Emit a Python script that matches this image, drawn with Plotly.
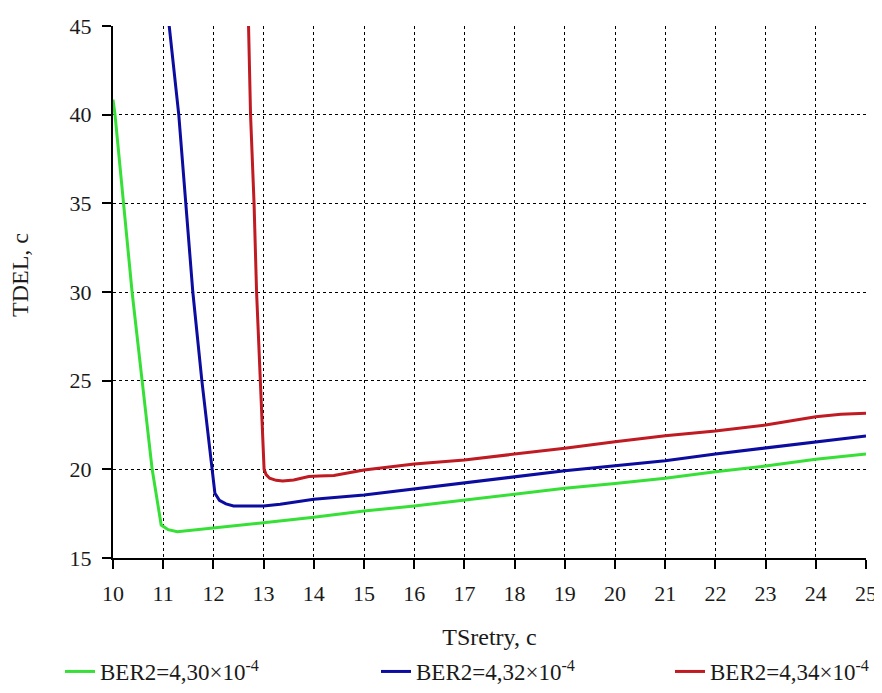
import plotly.graph_objects as go

# Series data (TSretry, TDEL)
x_green = [10.0, 10.04, 10.21, 10.38, 10.58, 10.78, 10.96, 11.1, 11.28, 12, 13, 14, 15, 16, 17, 18, 19, 20, 21, 22, 23, 24, 25]
y_green = [40.85, 40.0, 35.0, 30.0, 25.0, 20.0, 16.86, 16.6, 16.48, 16.71, 16.99, 17.3, 17.65, 17.93, 18.25, 18.59, 18.93, 19.2, 19.5, 19.87, 20.19, 20.57, 20.87]

x_blue = [11.11, 11.12, 11.31, 11.45, 11.59, 11.77, 11.97, 12.03, 12.12, 12.25, 12.4, 12.86, 13.0, 13.33, 13.6, 14.0, 15, 16, 17, 18, 19, 20, 21, 22, 23, 24, 25]
y_blue = [45.3, 45.0, 40.0, 35.0, 30.0, 25.0, 20.0, 18.65, 18.25, 18.05, 17.93, 17.9, 17.93, 18.03, 18.15, 18.31, 18.55, 18.9, 19.23, 19.59, 19.92, 20.2, 20.49, 20.87, 21.22, 21.56, 21.88]

x_red = [12.69, 12.70, 12.74, 12.81, 12.86, 12.94, 13.01, 13.05, 13.12, 13.25, 13.38, 13.6, 13.9, 14.1, 14.4, 15, 16, 17, 18, 19, 20, 21, 22, 23, 24, 24.5, 25]
y_red = [45.3, 45.0, 40.0, 35.0, 30.0, 25.0, 20.0, 19.7, 19.5, 19.38, 19.34, 19.4, 19.6, 19.63, 19.65, 19.96, 20.3, 20.53, 20.85, 21.19, 21.56, 21.9, 22.16, 22.5, 22.97, 23.1, 23.16]

series_names = ["BER2=4,30×10<sup>-4</sup>", "BER2=4,32×10<sup>-4</sup>", "BER2=4,34×10<sup>-4</sup>"]
x_ticks = list(range(10, 26))
y_ticks = [15, 20, 25, 30, 35, 40, 45]
x_title = "TSretry, c"
y_title = "TDEL, c"

FONT = "Liberation Serif, Times New Roman, serif"
TXT = "#1a1a1a"
# page body has an 8px margin, so the figure is sized to fill the rest of the window
W, H = 874, 685
L, R, T, B = 105, 16, 18, 135

fig = go.Figure()
colors = ["#36E036", "#0C0CA0", "#C01A22"]
legend_ids = ["legend", "legend2", "legend3"]
legend_px = [52, 368, 662]
for xs, ys, name, col, lg in zip([x_green, x_blue, x_red], [y_green, y_blue, y_red],
                                 series_names, colors, legend_ids):
    fig.add_trace(go.Scatter(x=xs, y=ys, mode="lines", name=name, legend=lg,
                             line=dict(color=col, width=3)))

leg_common = dict(orientation="h", xref="container", yref="container",
                  xanchor="left", yanchor="bottom", y=0.0,
                  font=dict(family=FONT, size=23, color=TXT), itemwidth=30,
                  bgcolor="rgba(0,0,0,0)")

fig.update_layout(
    width=W, height=H,
    margin=dict(l=L, r=R, t=T, b=B, autoexpand=False),
    paper_bgcolor="white", plot_bgcolor="white",
    font=dict(family=FONT, size=22, color=TXT),
    showlegend=True,
    legend=dict(x=legend_px[0] / W, **leg_common),
    legend2=dict(x=legend_px[1] / W, **leg_common),
    legend3=dict(x=legend_px[2] / W, **leg_common),
    annotations=[dict(text=y_title, xref="paper", yref="paper",
                      x=(12 - L) / (W - L - R), y=1 - (267 - T) / (H - T - B),
                      textangle=-90, showarrow=False,
                      xanchor="center", yanchor="middle",
                      font=dict(family=FONT, size=24, color=TXT))],
)

fig.update_xaxes(
    range=[10, 25], tickvals=x_ticks, showline=True, linecolor="black", linewidth=2,
    ticks="outside", ticklen=9, tickwidth=2, tickcolor="black",
    showgrid=True, gridcolor="black", gridwidth=1, griddash="dot",
    zeroline=False, ticklabelstandoff=6,
    tickfont=dict(family=FONT, size=22, color=TXT),
    title=dict(text=x_title, standoff=25, font=dict(family=FONT, size=24, color=TXT)),
)
fig.update_yaxes(
    range=[15, 45], tickvals=y_ticks, showline=True, linecolor="black", linewidth=2,
    ticks="outside", ticklen=9, tickwidth=2, tickcolor="black",
    showgrid=True, gridcolor="black", gridwidth=1, griddash="dot",
    zeroline=False, ticklabelstandoff=6,
    tickfont=dict(family=FONT, size=22, color=TXT),
)

fig.write_html("out.html")
